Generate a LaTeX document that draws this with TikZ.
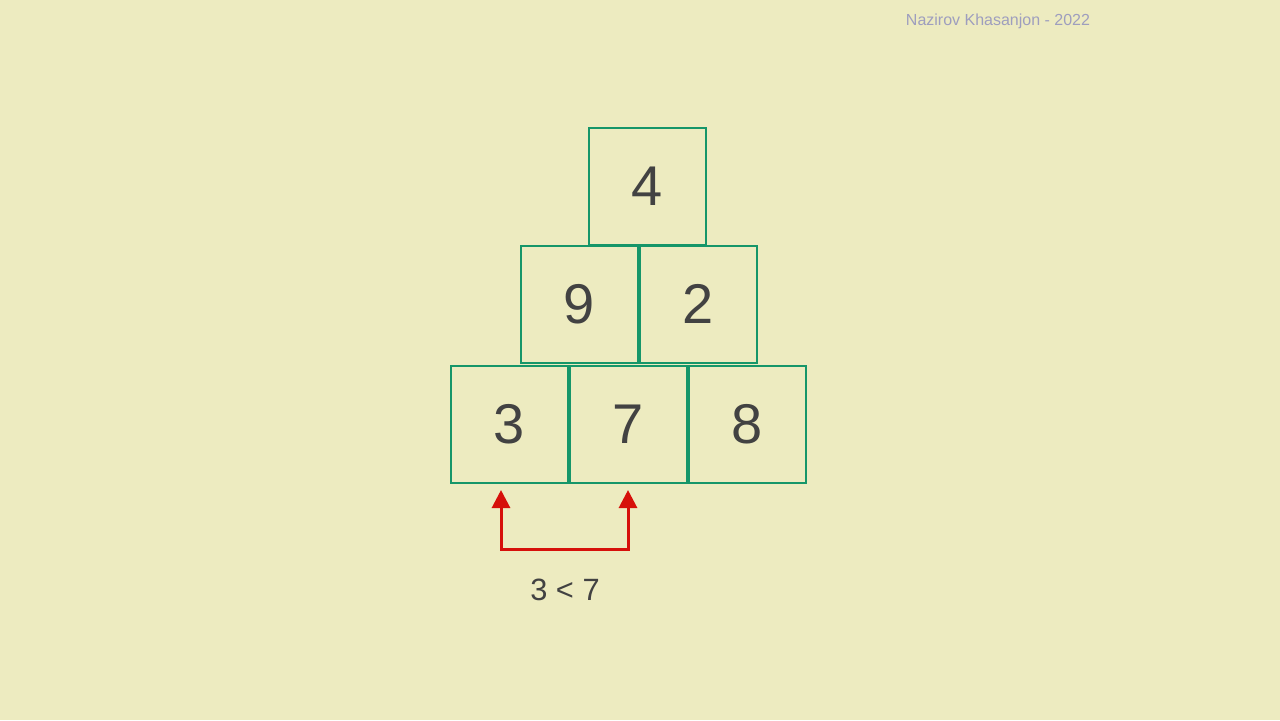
\documentclass[tikz,border=0pt]{standalone}
\usepackage{fontspec}
\setmainfont{Liberation Sans}
\usetikzlibrary{arrows.meta, positioning}

\definecolor{bgyellow}{RGB}{237,235,192}
\definecolor{boxgreen}{RGB}{22,150,105}
\definecolor{digitgray}{RGB}{66,66,66}
\definecolor{cmpred}{RGB}{214,16,10}
\definecolor{creditgray}{RGB}{158,158,190}

\tikzset{
	cell/.style={draw=boxgreen, line width=1pt, minimum size=58.5pt, inner sep=0pt,
		text=digitgray, font=\fontsize{28}{30}\selectfont},
	cmparrow/.style={draw=cmpred, line width=1.5pt, {Triangle[width=9pt,length=9pt]}-{Triangle[width=9pt,length=9pt]}},
}

\begin{document}
\begin{tikzpicture}[x=0.5pt, y=-0.5pt, node distance=0pt]
	\useasboundingbox[fill=bgyellow] (0,0) rectangle (1280,720);

	\node[cell]	(b3)	at (509,424)		{3};
	\node[cell]	(b7)	[right	=of b3]		{7};
	\node[cell]	(b8)	[right	=of b7]		{8};
	\node[cell]	(b9)	at (579,304)		{9};
	\node[cell]	(b2)	[right	=of b9]		{2};
	\node[cell]	(b4)	at (647,186)		{4};

	\coordinate	(p3)	at (501,490);
	\coordinate	(p7)	at (628,490);

	\path[cmparrow] (p3) -- ++(0,59) -| (p7);

	\node[text=digitgray, font=\fontsize{15.4}{17}\selectfont] (cmp) at (565,590) {3 < 7};
	\node[text=creditgray, font=\fontsize{8}{10}\selectfont] (credit) at (998,21) {Nazirov Khasanjon - 2022};
\end{tikzpicture}
\end{document}
